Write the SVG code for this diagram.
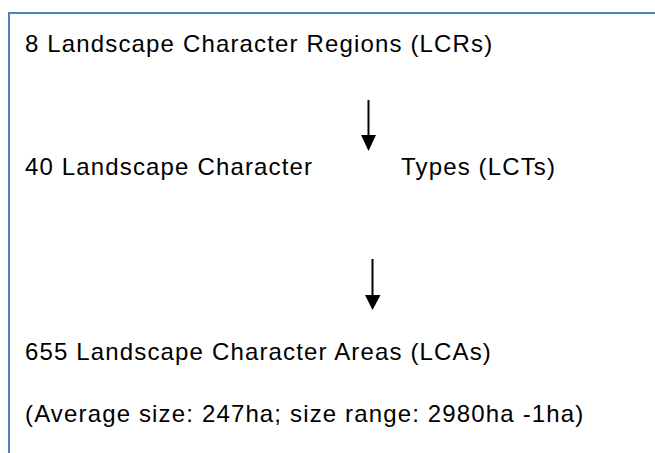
<svg xmlns="http://www.w3.org/2000/svg" width="655" height="453" viewBox="0 0 655 453">
<style>
text { font-family: "Liberation Sans", Arial, sans-serif; font-size: 24px; letter-spacing: 1.15px; fill: #000; }
.conn line { stroke: #000; stroke-width: 2; }
.conn polygon { fill: #000; }
</style>
<rect width="655" height="453" fill="#fff"/>
<path id="frame" d="M9,453 V13 H655" fill="none" stroke="#4F81BD" stroke-width="2"/>
<g id="lcr"><text x="25" y="52">8 Landscape Character Regions (LCRs)</text></g>
<g id="lct"><text x="25" y="175">40 Landscape Character</text><text x="401" y="175">Types (LCTs)</text></g>
<g id="lca"><text x="25" y="360">655 Landscape Character Areas (LCAs)</text><text x="25" y="422">(Average size: 247ha; size range: 2980ha -1ha)</text></g>
<g class="conn" id="connectors">
<line x1="368.5" y1="100" x2="368.5" y2="137"/>
<polygon points="361,135 376,135 368.5,151"/>
<line x1="372.5" y1="259" x2="372.5" y2="297"/>
<polygon points="365,295 380.5,295 372.5,310"/>
</g>
</svg>
